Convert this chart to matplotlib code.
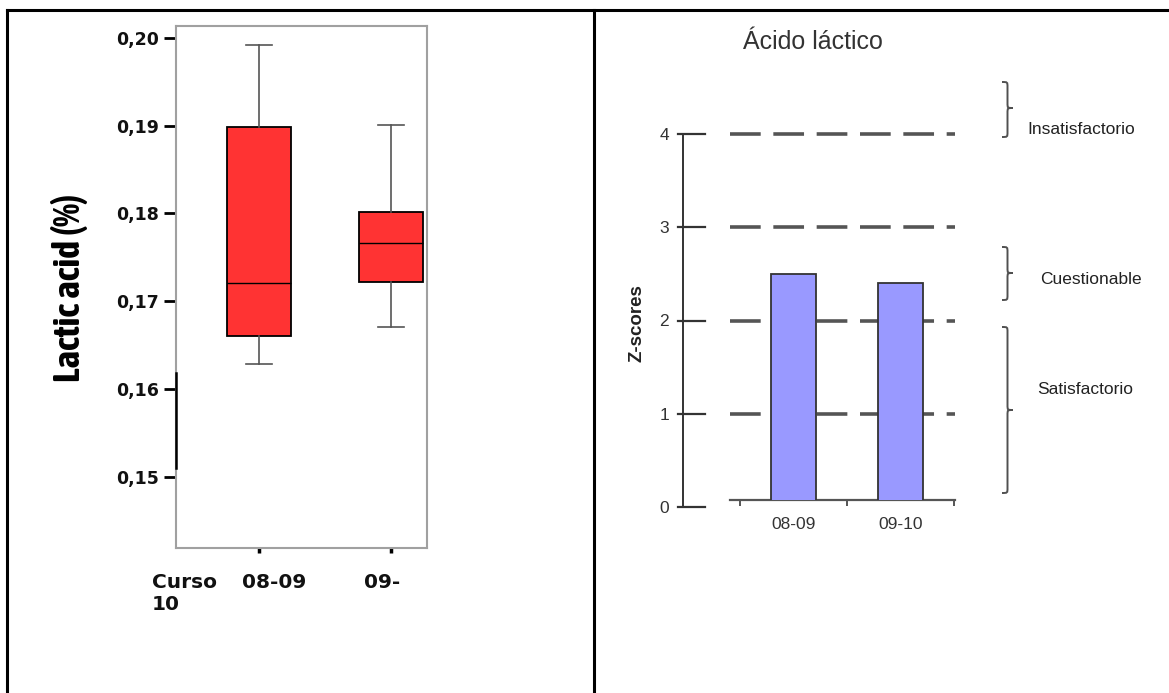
import matplotlib
matplotlib.use("Agg")
import matplotlib.pyplot as plt
from matplotlib import font_manager
from matplotlib.path import Path
from matplotlib.patches import PathPatch

# datos: izquierda (boxplot de ácido láctico), derecha (z-scores)
cursos = ["08-09", "09-10"]
box_whislo = [0.1629, 0.1671]
box_q1 = [0.1661, 0.1722]
box_med = [0.1721, 0.1766]
box_q3 = [0.1898, 0.1802]
box_whishi = [0.1992, 0.1901]
lactic_ticks = [0.15, 0.16, 0.17, 0.18, 0.19, 0.20]
lactic_labels = ["0,15", "0,16", "0,17", "0,18", "0,19", "0,20"]

zscores = [2.5, 2.4]
z_ticks = [0, 1, 2, 3, 4]
z_limits = [1, 2, 3, 4]
zonas = ["Insatisfactorio", "Cuestionable", "Satisfactorio"]

W, H = 1169, 693
fig = plt.figure(figsize=(W / 100, H / 100), dpi=100)


def px_axes(l, t, r, b):
    return fig.add_axes([l / W, 1 - b / H, (r - l) / W, (b - t) / H])


# fuente estrecha si existe alguna
narrow = None
for f in font_manager.fontManager.ttflist:
    if ("Narrow" in f.name or "Condensed" in f.name) and f.weight in ("bold", 700):
        narrow = f.fname
        break

# capa de anotaciones en pixeles
over = fig.add_axes([0, 0, 1, 1], zorder=5)
over.set_xlim(0, W)
over.set_ylim(H, 0)
over.axis("off")
over.patch.set_alpha(0)

# bordes de la tabla
over.plot([7, W], [10, 10], color="black", lw=2.2)
over.plot([7, 7], [10, H], color="black", lw=2.2)
over.plot([594, 594], [10, H], color="black", lw=2.2)

# ---------------- boxplot ----------------
ax1 = px_axes(176, 25.6, 427, 548)
ax1.set_xlim(0.371, 2.273)
ax1.set_ylim(0.14195, 0.20137)
stats = []
for i in range(len(cursos)):
    stats.append(dict(whislo=box_whislo[i], q1=box_q1[i], med=box_med[i],
                      q3=box_q3[i], whishi=box_whishi[i], fliers=[]))
ax1.bxp(stats, positions=[1, 2], widths=0.49, patch_artist=True, showfliers=False,
        boxprops=dict(facecolor="#ff3333", edgecolor="black", linewidth=1.3),
        medianprops=dict(color="black", linewidth=1.0),
        whiskerprops=dict(color="#555555", linewidth=1.2),
        capprops=dict(color="#555555", linewidth=1.2),
        capwidths=0.2)
for s in ax1.spines.values():
    s.set_color("#a0a0a0")
    s.set_linewidth(1.5)
ax1.plot([0.371, 0.371], [0.1619, 0.1510], color="black", lw=1.8, clip_on=False, zorder=6)
ax1.set_yticks(lactic_ticks)
ax1.set_yticklabels(lactic_labels, fontfamily="DejaVu Sans", fontweight="bold",
                    fontsize=12.5, color="#111111")
ax1.tick_params(axis="y", length=9, width=2, color="black", pad=3.5)
ax1.set_xticks([1, 2])
ax1.set_xticklabels(["", ""])
ax1.tick_params(axis="x", length=3.8, width=2.5, color="black")

if narrow:
    ylab_font = dict(fontproperties=font_manager.FontProperties(fname=narrow, size=27))
else:
    ylab_font = dict(fontfamily="Liberation Sans", fontweight="bold", fontsize=20)
over.text(70, 288, "Lactic acid (%)", rotation=90, ha="center", va="center",
          color="black", **ylab_font)
xfont = dict(fontfamily="DejaVu Sans", fontweight="bold", fontsize=14.5,
             color="#111111", va="center", ha="left")
over.text(152, 583, "Curso", **xfont)
over.text(242, 583, cursos[0], **xfont)
over.text(364, 583, cursos[1][:3], **xfont)
over.text(152, 605, cursos[1][3:], **xfont)

# ---------------- z-scores ----------------
x0, x1 = -1.033, 1.509
ax2 = px_axes(683, 134, 955, 507)
ax2.set_xlim(x0, x1)
ax2.set_ylim(0, 4)
ax2.patch.set_alpha(0)
for k in ["top", "right", "bottom"]:
    ax2.spines[k].set_visible(False)
ax2.spines["left"].set_color("#333333")
ax2.spines["left"].set_linewidth(1.4)
ax2.set_xticks([])
ax2.set_yticks(z_ticks)
ax2.set_yticklabels([str(v) for v in z_ticks], fontfamily="Liberation Sans",
                    fontsize=12.5, color="#333333")
ax2.tick_params(axis="y", length=0, pad=10)
for v in z_ticks:
    ax2.plot([x0 - 5 / 107, x0 + 22 / 107], [v, v], color="#333333", lw=1.6,
             clip_on=False)
ax2.hlines(z_limits, -0.594, x1, colors="#555555", linewidth=2.6,
           linestyles=(0, (8.5, 3.5)), clip_on=False)

ax3 = px_axes(730, 134, 955, 500)
ax3.set_xlim(-0.594, x1)
ax3.set_ylim(0.075, 4)
ax3.patch.set_alpha(0)
for k in ["top", "right", "left"]:
    ax3.spines[k].set_visible(False)
ax3.spines["bottom"].set_color("#555555")
ax3.spines["bottom"].set_linewidth(1.6)
ax3.bar([0, 1], zscores, width=0.42, color="#9999ff", edgecolor="#333333",
        linewidth=1.3, zorder=3)
ax3.set_yticks([])
ax3.set_xticks([-0.5, 0.5, 1.5])
ax3.set_xticklabels(["", "", ""])
ax3.tick_params(axis="x", length=4.5, width=1.4, color="#555555")
ax3.set_xticks([0, 1], minor=True)
ax3.set_xticklabels(cursos, minor=True, fontfamily="Liberation Sans",
                    fontsize=12.5, color="#333333")
ax3.tick_params(axis="x", which="minor", length=0, pad=12)

over.text(813, 49, "Ácido láctico", ha="center", va="baseline",
          fontfamily="Liberation Sans", fontsize=18, color="#333333")
over.text(637, 323, "Z-scores", rotation=90, ha="center", va="center",
          fontfamily="Liberation Sans", fontweight="bold", fontsize=13.5, color="#222222")


def brace(x, y0, y1, ym, w, r=5):
    xm = x + w * 0.5
    xt = x + w
    verts = [(x, y0), (xm, y0), (xm, y0), (xm, y0 + r),
             (xm, ym - r), (xm, ym), (xm, ym), (xt, ym),
             (xm, ym), (xm, ym), (xm, ym + r),
             (xm, y1 - r), (xm, y1), (xm, y1), (x, y1)]
    codes = [Path.MOVETO, Path.CURVE4, Path.CURVE4, Path.CURVE4,
             Path.LINETO, Path.CURVE4, Path.CURVE4, Path.CURVE4,
             Path.CURVE4, Path.CURVE4, Path.CURVE4,
             Path.LINETO, Path.CURVE4, Path.CURVE4, Path.CURVE4]
    over.add_patch(PathPatch(Path(verts, codes), fill=False, edgecolor="#505050", lw=1.4))


brace(1002, 82, 137, 108, 11)
brace(1002, 247, 300, 273, 11)
brace(1002, 327, 493, 410, 11)

zfont = dict(fontfamily="Liberation Sans", fontsize=12.5, color="#222222",
             va="center", ha="left")
over.text(1027, 130, zonas[0], **zfont)
over.text(1040, 279, zonas[1], **zfont)
over.text(1037, 390, zonas[2], **zfont)

fig.savefig("out.png", dpi=100)
